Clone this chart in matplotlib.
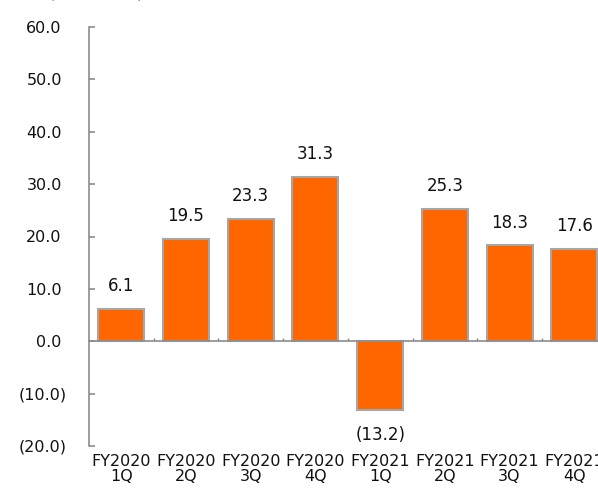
import matplotlib
matplotlib.use("Agg")
import matplotlib.pyplot as plt
from matplotlib.transforms import ScaledTranslation, blended_transform_factory

# Quarterly values
quarters = ["FY2020\n1Q", "FY2020\n2Q", "FY2020\n3Q", "FY2020\n4Q",
            "FY2021\n1Q", "FY2021\n2Q", "FY2021\n3Q", "FY2021\n4Q"]
values = [6.1, 19.5, 23.3, 31.3, -13.2, 25.3, 18.3, 17.6]
yticks = [-20, -10, 0, 10, 20, 30, 40, 50, 60]
unit_label = "(Billion Yen)"

W, H = 598, 491
fig = plt.figure(figsize=(W / 100, H / 100), dpi=100)

# axes geometry in pixels
ax_left, ax_top, ax_bottom = 89, 27, 446
cat_w = 64.7
ax = fig.add_axes([ax_left / W, (H - ax_bottom) / H,
                   cat_w * len(values) / W, (ax_bottom - ax_top) / H])
ax.set_xlim(0, len(values))
ax.set_ylim(-20, 60)

orange = "#FF6600"
edge = "#A6A6A6"
axis_gray = "#8C8C8C"

xs = [i + 0.5 for i in range(len(values))]
ax.bar(xs, values, width=0.71, color=orange, edgecolor=edge, linewidth=1.5, zorder=2)

# value labels, negatives in accounting format
for x, v in zip(xs, values):
    txt = f"({abs(v):.1f})" if v < 0 else f"{v:.1f}"
    if v >= 0:
        ax.annotate(txt, (x, v), xytext=(0, 10), textcoords="offset points",
                    ha="center", va="bottom", fontsize=12, color="#111111")
    else:
        ax.annotate(txt, (x, v), xytext=(0, -11), textcoords="offset points",
                    ha="center", va="top", fontsize=12, color="#111111")

# spines
for s in ["top", "right"]:
    ax.spines[s].set_visible(False)
ax.spines["left"].set_color(axis_gray)
ax.spines["left"].set_linewidth(1.2)
ax.spines["bottom"].set_position(("data", 0))
ax.spines["bottom"].set_color(axis_gray)
ax.spines["bottom"].set_linewidth(1.2)
ax.spines["bottom"].set_zorder(3)

# y ticks
ax.set_yticks(yticks)
ax.set_yticklabels([f"({abs(t):.1f})" if t < 0 else f"{t:.1f}" for t in yticks])
ax.tick_params(axis="y", direction="in", length=4.5, width=1.2, color=axis_gray,
               pad=16, labelsize=11.5, labelcolor="#111111")
for t, lab in zip(yticks, ax.get_yticklabels()):
    if t >= 0:
        lab.set_transform(lab.get_transform() + ScaledTranslation(-5 / 100, 0, fig.dpi_scale_trans))

# x ticks at category boundaries, labels drawn at the bottom of the plot area
ax.set_xticks(range(1, len(values)))
ax.set_xticklabels([])
ax.tick_params(axis="x", direction="in", length=2.5, width=1.0, color=axis_gray)
trans = blended_transform_factory(ax.transData, ax.transAxes)
for x, q in zip(xs, quarters):
    ax.annotate(q, (x, 0), xycoords=trans, xytext=(0, -6), textcoords="offset points",
                ha="center", va="top", fontsize=11.5, linespacing=1.0, color="#111111",
                annotation_clip=False)

# unit caption at the top edge
fig.text(96 / W, 1 + 3 / H, unit_label, ha="center", va="baseline",
         fontsize=11.5, color="#111111")

fig.savefig("out.png", dpi=100)
